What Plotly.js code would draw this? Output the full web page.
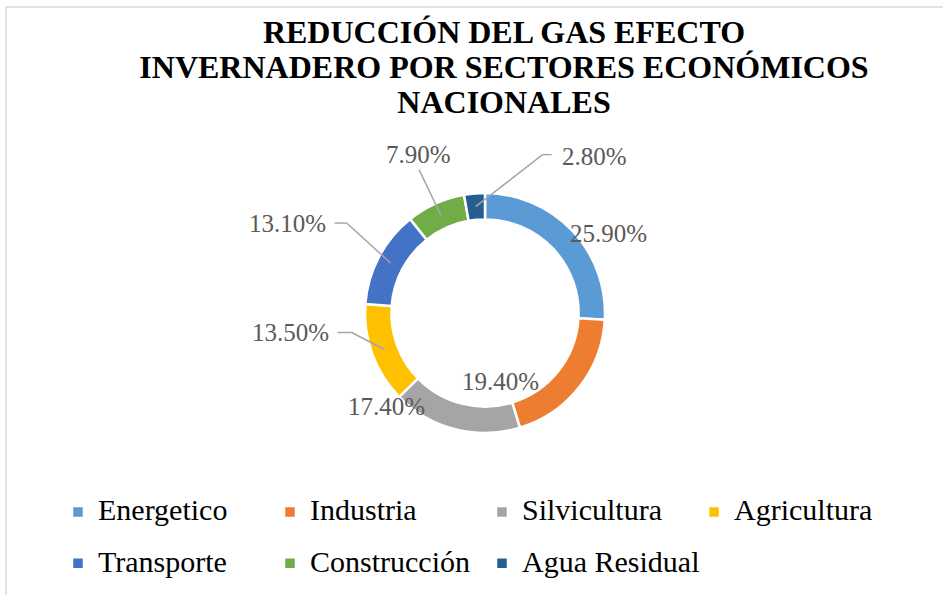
<!DOCTYPE html>
<html>
<head>
<meta charset="utf-8">
<script src="https://cdn.plot.ly/plotly-3.0.1.min.js"></script>
<style>html,body{margin:0;padding:0;background:#fff;}#chart{width:943px;height:595px;}</style>
</head>
<body>
<div id="chart"></div>
<script>
// ---- data ----
const sectors = ["Energetico", "Industria", "Silvicultura", "Agricultura", "Transporte", "Construcción", "Agua Residual"];
const shares = [25.9, 19.4, 17.4, 13.5, 13.1, 7.9, 2.8];
const sliceColors = ["#5B9BD5", "#ED7D31", "#A5A5A5", "#FFC000", "#4472C4", "#70AD47", "#255E91"];
const titleLines = ["REDUCCIÓN DEL GAS EFECTO", "INVERNADERO POR SECTORES ECONÓMICOS", "NACIONALES"];

// ---- label placement (style, pixels relative to the ring point of each slice) ----
const labelOffsets = [[46, -6], [-68, 3], [-72, -10], [-94, -17], [-103, -40], [-23, -61], [119, -50]];
const leaderElbows = [null, null, null, [-33, -17], [-44, -40], [-22, -46], [67, -52]];
const leaderStubs = [0, 0, 0, -14, -12, 0, 9];

const W = 943, H = 595;
const cx = 485, cy = 313, rOuter = 120, hole = 0.78;
const serif = "Liberation Serif, Times New Roman, serif";
const leaderColor = "#A6A6A6";

const total = shares.reduce((a, b) => a + b, 0);
const fx = p => p / W, fy = p => 1 - p / H;
let cum = 0;
const annotations = [];
const leaderShapes = [];
shares.forEach((v, i) => {
  const mid = (cum + v / 2) / total * 2 * Math.PI;
  cum += v;
  const rr = rOuter * (1 + hole) / 2;
  const px = cx + Math.sin(mid) * rr;
  const py = cy - Math.cos(mid) * rr;
  const [dx, dy] = labelOffsets[i];
  annotations.push({
    xref: "paper", yref: "paper", text: v.toFixed(2) + "%",
    x: fx(px + dx), y: fy(py + dy), showarrow: false,
    font: {family: serif, size: 25, color: "#595959"},
    xanchor: "center", yanchor: "middle"
  });
  const e = leaderElbows[i];
  if (e) {
    const ex = px + e[0], ey = py + e[1];
    leaderShapes.push({type: "line", xref: "paper", yref: "paper",
      x0: fx(px), y0: fy(py), x1: fx(ex), y1: fy(ey),
      line: {color: leaderColor, width: 1.5}});
    if (leaderStubs[i]) {
      leaderShapes.push({type: "line", xref: "paper", yref: "paper",
        x0: fx(ex), y0: fy(ey), x1: fx(ex + leaderStubs[i]), y1: fy(ey),
        line: {color: leaderColor, width: 1.5}});
    }
  }
});

const trace = {
  type: "pie",
  labels: sectors.map(s => '<span style="font-size:30px;baseline-shift:6px">' + s + '</span>'),
  values: shares,
  hole: hole,
  sort: false,
  direction: "clockwise",
  rotation: 0,
  textinfo: "none",
  marker: {colors: sliceColors, line: {color: "#FFFFFF", width: 2.5}},
  domain: {x: [fx(cx - rOuter), fx(cx + rOuter)], y: [fy(cy + rOuter), fy(cy - rOuter)]},
  hovertemplate: "%{label}: %{value:.2f}%<extra></extra>"
};

const layout = {
  width: W, height: H,
  margin: {l: 0, r: 0, t: 0, b: 0, autoexpand: false},
  paper_bgcolor: "#FFFFFF",
  title: {
    text: titleLines.map(l => '<span style="font-size:32px"><b>' + l + '</b></span>').join("<br>"),
    font: {family: serif, size: 27, color: "#000000"},
    x: 504 / W, xanchor: "center", xref: "container",
    y: fy(42.5), yanchor: "middle", yref: "container"
  },
  showlegend: true,
  legend: {
    orientation: "h",
    x: 58 / W, xanchor: "left",
    y: fy(481.5), yanchor: "top",
    entrywidth: 167, entrywidthmode: "pixels",
    font: {family: serif, size: 37, color: "#000000"},
    traceorder: "normal"
  },
  annotations: annotations,
  shapes: [{
    type: "rect", xref: "paper", yref: "paper",
    x0: 6 / W, x1: 1.05, y0: -0.05, y1: fy(7),
    line: {color: "#D9D9D9", width: 1.5}, fillcolor: "rgba(0,0,0,0)", layer: "below"
  }].concat(leaderShapes)
};

Plotly.newPlot("chart", [trace], layout, {displayModeBar: false, responsive: false});
</script>
</body>
</html>
